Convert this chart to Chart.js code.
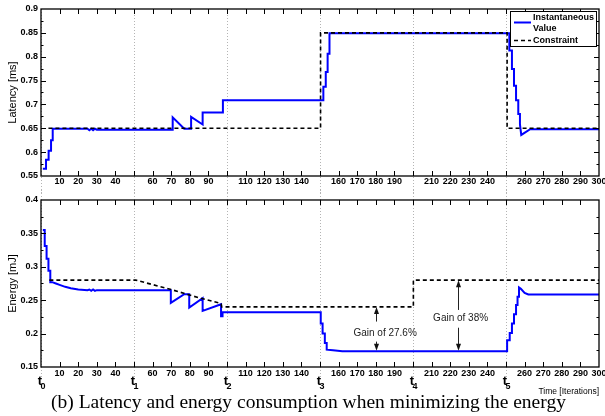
<!DOCTYPE html>
<html>
<head>
<meta charset="utf-8">
<script src="https://cdn.jsdelivr.net/npm/chart.js@4"></script>
<style>
  body { margin: 0; background: #fff; }
  #wrap { position: relative; width: 605px; height: 416px; overflow: hidden; }
  #latCanvas { position: absolute; left: 0; top: 0; }
  #engCanvas { position: absolute; left: 0; top: 190px; }
  #caption {
    position: absolute; left: 6px; width: 605px; top: 391px;
    text-align: center; white-space: nowrap;
    font-family: "Liberation Serif", "Times New Roman", serif; font-size: 19.5px; color: #000;
  }
</style>
</head>
<body>
<div id="wrap">
  <canvas id="latCanvas" width="605" height="195"></canvas>
  <canvas id="engCanvas" width="605" height="210"></canvas>
  <div id="caption">(b) Latency and energy consumption when minimizing the energy</div>
</div>
<script>
// latency, instantaneous value (iteration / ms)
const latencyIter = [1, 2.7, 2.7, 4.1, 4.1, 5.4, 5.4, 6.3, 6.3, 25, 26, 27, 28, 29, 30,
  70.8, 70.8, 77, 80.7, 80.7, 86.9, 86.9, 97.8, 97.8,
  151.8, 151.8, 153.1, 153.1, 154.1, 154.1, 155.1, 155.1,
  251.8, 251.8, 253.2, 253.2, 254.3, 254.3, 255.4, 255.4, 256.6, 256.6, 257.5, 257.5, 258.2, 263, 300];
const latency = [0.565, 0.565, 0.584, 0.584, 0.603, 0.603, 0.625, 0.625, 0.649, 0.649, 0.646, 0.649, 0.646, 0.649, 0.647,
  0.647, 0.673, 0.649, 0.649, 0.674, 0.658, 0.683, 0.683, 0.709,
  0.709, 0.737, 0.737, 0.768, 0.768, 0.806, 0.806, 0.849,
  0.849, 0.813, 0.813, 0.774, 0.774, 0.739, 0.739, 0.709, 0.709, 0.68, 0.68, 0.658, 0.636, 0.648, 0.648];

// latency constraint
const latencyLimitIter = [4, 150.3, 150.3, 250.6, 250.6, 300];
const latencyLimit = [0.65, 0.65, 0.85, 0.85, 0.65, 0.65];

// energy, instantaneous value (iteration / mJ)
const energyIter = [1, 2, 2, 3, 3, 4, 4, 5, 5, 6, 8, 10, 13, 16, 20, 25, 26, 27, 28, 29, 30,
  69.8, 69.8, 77, 79.7, 79.7, 86.9, 86.9, 96.8, 96.8, 97.6, 97.6,
  150.4, 150.4, 151.4, 151.4, 152.6, 152.6, 153.6, 153.6, 157, 162,
  250.6, 250.6, 252, 252, 253.2, 253.2, 254.3, 254.3, 255.4, 255.4, 256.2, 256.2, 257, 257, 258, 260, 262, 300];
const energy = [0.355, 0.355, 0.331, 0.331, 0.312, 0.312, 0.294, 0.294, 0.277, 0.277, 0.275, 0.273, 0.27, 0.268, 0.266,
  0.265, 0.266, 0.264, 0.266, 0.264, 0.265,
  0.265, 0.246, 0.259, 0.259, 0.239, 0.253, 0.234, 0.244, 0.226, 0.226, 0.232,
  0.232, 0.215, 0.215, 0.2, 0.2, 0.186, 0.186, 0.176, 0.175, 0.1735,
  0.1735, 0.19, 0.19, 0.201, 0.201, 0.215, 0.215, 0.229, 0.229, 0.243, 0.243, 0.255, 0.255, 0.269, 0.267, 0.261, 0.2585, 0.2585];

// energy constraint
const energyLimitIter = [4.5, 51, 70, 85, 96.8, 97.2, 200.2, 200.2, 300];
const energyLimit = [0.28, 0.28, 0.266, 0.2535, 0.245, 0.24, 0.24, 0.28, 0.28];

// phase boundaries t0..t5
const phaseIter = [0, 50, 100, 150, 200, 250];
const phaseNames = ['0', '1', '2', '3', '4', '5'];

// gain annotations
const gainLabels = ['Gain of 27.6%', 'Gain of 38%'];
const gainIter = [180, 224];
const gainTextIter = [185, 225.6];
const gainTextValue = [0.201, 0.2229];
const gainUpFrom = [0.218, 0.2354];
const gainUpTo = [0.24, 0.28];
const gainDownFrom = [0.188, 0.2088];
const gainDownTo = [0.1745, 0.1745];

const SANS = '"Liberation Sans", Arial, Helvetica, sans-serif';
const tickFont = { family: SANS, size: 9, weight: 'bold' };

function zip(xs, ys) {
  return xs.map((x, i) => ({ x: x, y: ys[i] }));
}

// dotted phase lines, drawn under the data
const phaseLines = {
  id: 'phaseLines',
  beforeDatasetsDraw(chart, args, opts) {
    const { ctx, scales: { x } } = chart;
    ctx.save();
    ctx.strokeStyle = '#b4b4b4';
    ctx.lineWidth = 1;
    ctx.setLineDash([1, 2]);
    phaseIter.forEach(v => {
      const px = Math.round(x.getPixelForValue(v)) + 0.5;
      ctx.beginPath();
      ctx.moveTo(px, opts.from(chart));
      ctx.lineTo(px, opts.to(chart));
      ctx.stroke();
    });
    ctx.restore();
  }
};

// matlab style box with inward ticks
const boxTicks = {
  id: 'boxTicks',
  afterDatasetsDraw(chart) {
    const { ctx, chartArea: a, scales: { x, y } } = chart;
    ctx.save();
    ctx.strokeStyle = '#000';
    ctx.lineWidth = 1.3;
    ctx.strokeRect(a.left, a.top, a.right - a.left, a.bottom - a.top);
    ctx.lineWidth = 1;
    ctx.beginPath();
    for (let v = 10; v < 300; v += 10) {
      const px = Math.round(x.getPixelForValue(v)) + 0.5;
      ctx.moveTo(px, a.top); ctx.lineTo(px, a.top + 5);
      ctx.moveTo(px, a.bottom); ctx.lineTo(px, a.bottom - 5);
    }
    const step = 0.025;
    for (let k = 1; y.min + k * step < y.max - 1e-9; k++) {
      const py = Math.round(y.getPixelForValue(y.min + k * step)) + 0.5;
      const len = k % 2 === 0 ? 5 : 2.5;
      ctx.moveTo(a.left, py); ctx.lineTo(a.left + len, py);
      ctx.moveTo(a.right, py); ctx.lineTo(a.right - len, py);
    }
    ctx.stroke();
    ctx.restore();
  }
};

const latLegend = {
  id: 'latLegend',
  afterDraw(chart) {
    const { ctx, chartArea: a } = chart;
    const w = 86, h = 35;
    const left = a.right - 3 - w, top = a.top + 2;
    ctx.save();
    ctx.fillStyle = '#fff';
    ctx.fillRect(left, top, w, h);
    ctx.strokeStyle = '#000';
    ctx.lineWidth = 1;
    ctx.strokeRect(left + 0.5, top + 0.5, w, h);
    ctx.lineWidth = 2;
    ctx.strokeStyle = '#0000ff';
    ctx.beginPath(); ctx.moveTo(left + 4, top + 11.5); ctx.lineTo(left + 21, top + 11.5); ctx.stroke();
    ctx.strokeStyle = '#000';
    ctx.lineWidth = 1.6;
    ctx.setLineDash([4, 3]);
    ctx.beginPath(); ctx.moveTo(left + 4, top + 29.5); ctx.lineTo(left + 21, top + 29.5); ctx.stroke();
    ctx.fillStyle = '#000';
    ctx.font = 'bold 9px ' + SANS;
    ctx.textBaseline = 'middle';
    ctx.fillText('Instantaneous', left + 23, top + 6.5);
    ctx.fillText('Value', left + 23, top + 17.5);
    ctx.fillText('Constraint', left + 23, top + 29.5);
    ctx.restore();
  }
};

function arrow(ctx, px, y0, y1) {
  const dir = y1 < y0 ? 1 : -1;
  ctx.beginPath();
  ctx.moveTo(px, y0);
  ctx.lineTo(px, y1 + dir * 6);
  ctx.stroke();
  ctx.beginPath();
  ctx.moveTo(px, y1);
  ctx.lineTo(px - 2.5, y1 + dir * 7);
  ctx.lineTo(px + 2.5, y1 + dir * 7);
  ctx.closePath();
  ctx.fill();
}

const gainNotes = {
  id: 'gainNotes',
  afterDraw(chart) {
    const { ctx, scales: { x, y } } = chart;
    ctx.save();
    ctx.strokeStyle = '#222';
    ctx.fillStyle = '#111';
    ctx.lineWidth = 1;
    gainLabels.forEach((label, i) => {
      const px = Math.round(x.getPixelForValue(gainIter[i])) + 0.5;
      arrow(ctx, px, y.getPixelForValue(gainUpFrom[i]), y.getPixelForValue(gainUpTo[i]));
      arrow(ctx, px, y.getPixelForValue(gainDownFrom[i]), y.getPixelForValue(gainDownTo[i]));
    });
    ctx.font = '10px ' + SANS;
    ctx.textAlign = 'center';
    ctx.textBaseline = 'middle';
    ctx.fillStyle = '#222';
    gainLabels.forEach((label, i) => {
      ctx.fillText(label, x.getPixelForValue(gainTextIter[i]), y.getPixelForValue(gainTextValue[i]));
    });
    // t0..t5 under the axis
    ctx.fillStyle = '#000';
    ctx.textBaseline = 'alphabetic';
    phaseIter.forEach((v, i) => {
      const px = x.getPixelForValue(v);
      ctx.font = 'bold 13px ' + SANS;
      ctx.textAlign = 'right';
      ctx.fillText('t', px + 1, 195);
      ctx.font = 'bold 9px ' + SANS;
      ctx.textAlign = 'left';
      ctx.fillText(phaseNames[i], px - 0.5, 199);
    });
    ctx.restore();
  }
};

function xAxis(height, pad, title) {
  return {
    type: 'linear', min: 0, max: 300,
    grid: { display: false, drawTicks: false }, border: { display: false },
    ticks: {
      stepSize: 10, padding: pad, autoSkip: false, maxRotation: 0, color: '#000', font: tickFont,
      callback: v => (v % 50 === 0 && v !== 300) ? '' : String(v)
    },
    title: title,
    afterFit: s => { s.height = height; s.paddingLeft = 0; s.paddingRight = 0; }
  };
}

function yAxis(min, max, label) {
  return {
    min: min, max: max,
    grid: { display: false, drawTicks: false }, border: { display: false },
    ticks: {
      stepSize: 0.05, padding: 3, color: '#000', font: tickFont,
      callback: v => String(Math.round(v * 100) / 100)
    },
    title: { display: true, text: label, color: '#000', font: { family: SANS, size: 11 }, padding: { top: 6, bottom: 0 } },
    afterFit: s => { s.width = 41; }
  };
}

const common = {
  responsive: false,
  animation: false,
  events: [],
  plugins: { legend: { display: false }, tooltip: { enabled: false } }
};

new Chart(document.getElementById('latCanvas'), {
  type: 'line',
  data: {
    datasets: [
      { label: 'Constraint', data: zip(latencyLimitIter, latencyLimit), borderColor: '#000', borderWidth: 1.6, borderDash: [4, 3], pointRadius: 0, tension: 0 },
      { label: 'Instantaneous Value', data: zip(latencyIter, latency), borderColor: '#0000ff', borderWidth: 2, pointRadius: 0, tension: 0 }
    ]
  },
  options: Object.assign({}, common, {
    layout: { padding: { left: 0, right: 6, top: 9, bottom: 0 } },
    scales: { x: xAxis(19, 0, { display: false }), y: yAxis(0.55, 0.9, 'Latency [ms]') },
    plugins: Object.assign({}, common.plugins, {
      phaseLines: { from: c => c.chartArea.top, to: c => c.height }
    })
  }),
  plugins: [phaseLines, boxTicks, latLegend]
});

new Chart(document.getElementById('engCanvas'), {
  type: 'line',
  data: {
    datasets: [
      { label: 'Constraint', data: zip(energyLimitIter, energyLimit), borderColor: '#000', borderWidth: 1.6, borderDash: [4, 3], pointRadius: 0, tension: 0 },
      { label: 'Instantaneous Value', data: zip(energyIter, energy), borderColor: '#0000ff', borderWidth: 2, pointRadius: 0, tension: 0 }
    ]
  },
  options: Object.assign({}, common, {
    layout: { padding: { left: 0, right: 6, top: 10, bottom: 0 } },
    scales: {
      x: xAxis(33, 1, { display: true, text: 'Time [Iterations]', align: 'end', color: '#000', font: { family: SANS, size: 8.5 }, padding: { top: 0, bottom: 3.5 } }),
      y: yAxis(0.15, 0.4, 'Energy [mJ]')
    },
    plugins: Object.assign({}, common.plugins, {
      phaseLines: { from: c => 0, to: c => c.chartArea.bottom + 10 }
    })
  }),
  plugins: [phaseLines, boxTicks, gainNotes]
});
</script>
</body>
</html>
